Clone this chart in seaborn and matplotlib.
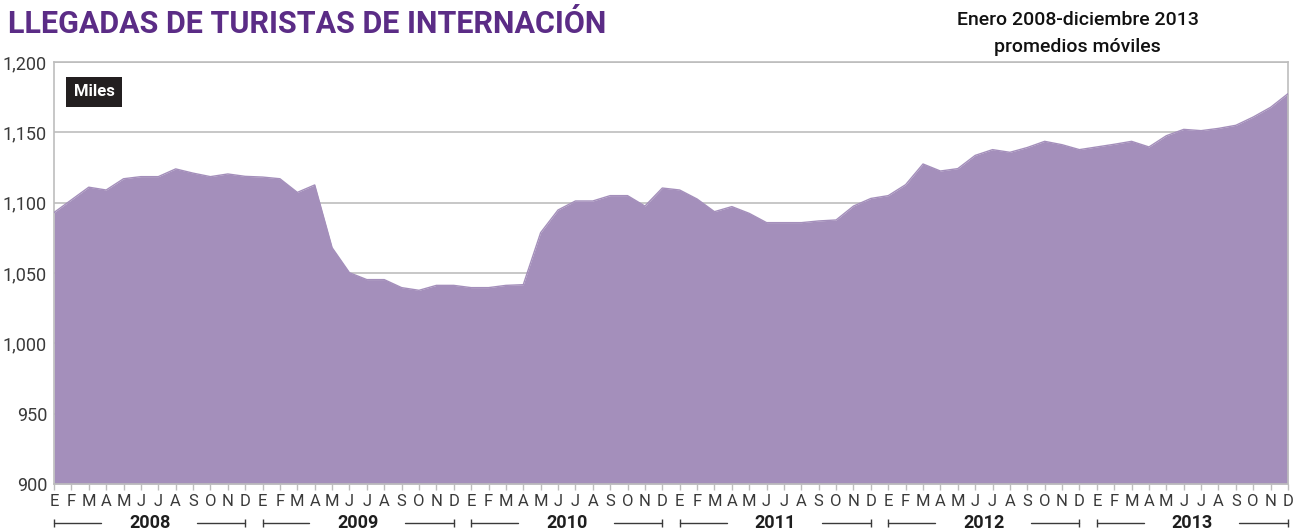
import matplotlib
matplotlib.use("Agg")
import matplotlib.pyplot as plt
import seaborn as sns
import pandas as pd
from matplotlib import font_manager
from matplotlib.ticker import FuncFormatter

# ==========================================
# DATA
# ==========================================

years = ["2008", "2009", "2010", "2011", "2012", "2013"]
month_letters = ["E", "F", "M", "A", "M", "J", "J", "A", "S", "O", "N", "D"]

# llegadas (miles), promedios moviles, enero 2008 - diciembre 2013
llegadas_2008 = [1093, 1102, 1111, 1109, 1117, 1118.5, 1118.5, 1124, 1121, 1118.5, 1120.4, 1118.7]
llegadas_2009 = [1118.2, 1117, 1107.3, 1112.6, 1068, 1050.2, 1045.3, 1045.3, 1039.6, 1037.7, 1041.2, 1041.2]
llegadas_2010 = [1039.6, 1039.6, 1041.2, 1041.7, 1078.7, 1094.8, 1101.2, 1101.2, 1105, 1105, 1097.6, 1110.4]
llegadas_2011 = [1109, 1102.6, 1093.6, 1097.2, 1092.4, 1085.8, 1085.8, 1085.8, 1087, 1087.7, 1097.6, 1103]
llegadas_2012 = [1105, 1112.8, 1127.5, 1122.5, 1124.2, 1133.6, 1137.7, 1135.8, 1139.2, 1143.6, 1141.2, 1137.7]
llegadas_2013 = [1139.6, 1141.5, 1143.6, 1139.6, 1147.6, 1152.1, 1151.2, 1152.8, 1155, 1160.9, 1167.8, 1177.5]

y_ticks = [900, 950, 1000, 1050, 1100, 1150, 1200]

values = (llegadas_2008 + llegadas_2009 + llegadas_2010
          + llegadas_2011 + llegadas_2012 + llegadas_2013)

df = pd.DataFrame({
    "mes": range(len(values)),
    "llegadas": values,
})

# ==========================================
# STYLE
# ==========================================

sns.set_theme(style="white")

available = {f.name for f in font_manager.fontManager.ttflist}
cond = "Liberation Sans Narrow" if "Liberation Sans Narrow" in available else "Roboto"
plt.rcParams["font.family"] = [cond, "DejaVu Sans"]

fill_color = "#A48FBB"
grid_color = "#BDBDBD"
title_color = "#5B2C86"
text_color = "#3A3A3A"

# ==========================================
# PLOT
# ==========================================

fig = plt.figure(figsize=(12.95, 5.30), dpi=100)
ax = fig.add_axes([54 / 1295, 1 - 484 / 530, 1234 / 1295, 422 / 530])

ax.fill_between(df["mes"], df["llegadas"], y_ticks[0], color=fill_color, lw=0, zorder=2)
sns.lineplot(data=df, x="mes", y="llegadas", color=fill_color, lw=1, ax=ax, zorder=3)

ax.set_xlim(0, len(values) - 1)
ax.set_ylim(y_ticks[0], y_ticks[-1])

ax.set_yticks(y_ticks)
ax.yaxis.set_major_formatter(FuncFormatter(lambda v, p: f"{int(v):,}"))
ax.grid(axis="y", color=grid_color, lw=1.2, zorder=1)
ax.set_axisbelow(True)

# month letters
ax.set_xticks(df["mes"])
ax.set_xticklabels(month_letters * len(years))
ax.tick_params(axis="x", length=4, width=1, color=grid_color, pad=3,
               labelsize=12, labelcolor=text_color, bottom=True)
ax.tick_params(axis="y", length=0, pad=5, labelsize=13, labelcolor=text_color)

ax.set_xlabel("")
ax.set_ylabel("")

for side in ["left", "right", "top", "bottom"]:
    ax.spines[side].set_visible(True)
    ax.spines[side].set_color(grid_color)
    ax.spines[side].set_linewidth(1.2)

# year brackets under the months
xt = ax.get_xaxis_transform()
yr_y = -0.093
for k, yr in enumerate(years):
    x0 = 12 * k
    x1 = 12 * k + 11
    ax.plot([x0, x0 + 2.7], [yr_y, yr_y], color=text_color, lw=1,
            marker="|", markersize=6, markevery=[0], transform=xt, clip_on=False)
    ax.plot([x1 - 2.8, x1], [yr_y, yr_y], color=text_color, lw=1,
            marker="|", markersize=6, markevery=[1], transform=xt, clip_on=False)
    ax.text(x0 + 5.5, yr_y, yr, transform=xt, ha="center", va="center",
            fontsize=13, fontweight="bold", color="#1E1E1E")

# "Miles" tag
ax.text(0.016, 0.929, "Miles", transform=ax.transAxes, ha="left", va="center",
        fontsize=12, fontweight="bold", color="white", zorder=5,
        bbox=dict(boxstyle="square,pad=0.45", fc="#231F20", ec="none"))

# titles
fig.text(0.006, 0.955, "LLEGADAS DE TURISTAS DE INTERNACIÓN", ha="left", va="center",
         fontsize=22, fontweight="bold", color=title_color)
fig.text(0.832, 0.962, "Enero 2008-diciembre 2013", ha="center", va="center",
         fontsize=14, fontweight="medium", color="#111111")
fig.text(0.832, 0.911, "promedios móviles", ha="center", va="center",
         fontsize=14, fontweight="medium", color="#111111")

plt.savefig("out.png", dpi=100)
